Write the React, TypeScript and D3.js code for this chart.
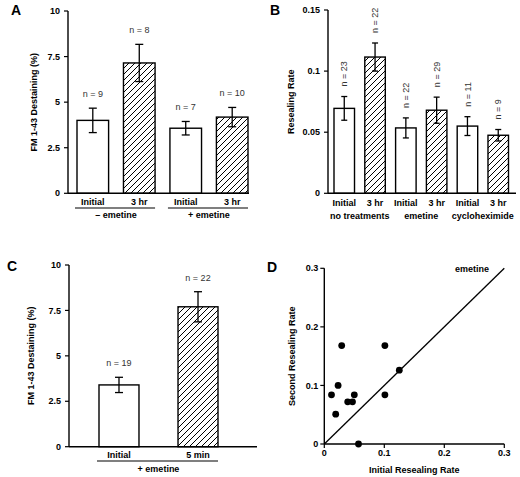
import React from "react";
import * as d3 from "d3";

// ---------- Panel A ----------
const aCategories = ["Initial", "3 hr", "Initial", "3 hr"];
const aHatched = [false, true, false, true];
const aValues = [4.0, 7.15, 3.57, 4.18];
const aErrors = [0.67, 1.02, 0.37, 0.53];
const aN = ["n = 9", "n = 8", "n = 7", "n = 10"];
const aGroups = ["\u2013 emetine", "+ emetine"];
const aTicks = [0, 2.5, 5, 7.5, 10];

// ---------- Panel B ----------
const bCategories = ["Initial", "3 hr", "Initial", "3 hr", "Initial", "3 hr"];
const bHatched = [false, true, false, true, false, true];
const bValues = [0.0695, 0.1115, 0.0535, 0.068, 0.055, 0.0475];
const bErrors = [0.0097, 0.0115, 0.0082, 0.0107, 0.0077, 0.0047];
const bN = ["n = 23", "n = 22", "n = 22", "n = 29", "n = 11", "n = 9"];
const bGroups = ["no treatments", "emetine", "cycloheximide"];
const bTicks = [0, 0.05, 0.1, 0.15];

// ---------- Panel C ----------
const cCategories = ["Initial", "5 min"];
const cHatched = [false, true];
const cValues = [3.4, 7.7];
const cErrors = [0.42, 0.83];
const cN = ["n = 19", "n = 22"];
const cGroups = ["+ emetine"];
const cTicks = [0, 2.5, 5, 7.5, 10];

// ---------- Panel D ----------
const dInitial = [0.029, 0.101, 0.125, 0.023, 0.012, 0.05, 0.101, 0.039, 0.047, 0.019, 0.057];
const dSecond = [0.168, 0.168, 0.126, 0.1, 0.084, 0.084, 0.084, 0.072, 0.072, 0.051, 0.0];
const dTicks = [0, 0.1, 0.2, 0.3];
const dNote = "emetine";

const FONT = "'Liberation Sans', Arial, Helvetica, sans-serif";

type BarPanelProps = {
  id: string;
  letter: string;
  letterX: number;
  letterY: number;
  categories: string[];
  hatched: boolean[];
  values: number[];
  errors: number[];
  nLabels: string[];
  groups: string[];
  groupLines: boolean;
  ticks: number[];
  tickFormat: (v: number) => string;
  yDomain: [number, number];
  yRange: [number, number];
  axisX: number;
  axisEnd: number;
  barRange: [number, number];
  padInner: number;
  capHalf: number;
  rotateN: boolean;
  yTitle: string;
  yTitleX: number;
  catY: number;
  groupLineY: number;
  groupY: number;
};

function BarPanel(p: BarPanelProps) {
  const y = d3.scaleLinear().domain(p.yDomain).range(p.yRange);
  const idx = p.categories.map((_, i) => String(i));
  const x = d3.scaleBand<string>().domain(idx).range(p.barRange).paddingInner(p.padInner).paddingOuter(0);
  const bw = x.bandwidth();
  const base = y(0);
  const per = p.categories.length / p.groups.length;
  const midY = (p.yRange[0] + p.yRange[1]) / 2;
  return (
    <g fontFamily={FONT}>
      <text x={p.letterX} y={p.letterY} fontSize={14} fontWeight="bold">{p.letter}</text>
      {/* bars */}
      {p.values.map((v, i) => (
        <rect key={"b" + i} x={x(String(i))} y={y(v)} width={bw} height={base - y(v)}
          fill={p.hatched[i] ? `url(#hatch)` : "#fff"} stroke="#000" strokeWidth={1.4} />
      ))}
      {/* error bars */}
      {p.values.map((v, i) => {
        const cx = (x(String(i)) as number) + bw / 2;
        const t = y(v + p.errors[i]);
        const b = y(v - p.errors[i]);
        return (
          <g key={"e" + i} stroke="#000" strokeWidth={1.3}>
            <line x1={cx} x2={cx} y1={t} y2={b} />
            <line x1={cx - p.capHalf} x2={cx + p.capHalf} y1={t} y2={t} />
            <line x1={cx - p.capHalf} x2={cx + p.capHalf} y1={b} y2={b} />
          </g>
        );
      })}
      {/* n labels */}
      {p.values.map((v, i) => {
        const cx = (x(String(i)) as number) + bw / 2;
        const t = y(v + p.errors[i]);
        return p.rotateN ? (
          <text key={"n" + i} transform={`translate(${cx},${t - 10}) rotate(-90)`} dy="0.35em"
            fontSize={9} fill="#333" textAnchor="start">{p.nLabels[i]}</text>
        ) : (
          <text key={"n" + i} x={cx} y={t - 11} fontSize={9} fill="#333" textAnchor="middle">{p.nLabels[i]}</text>
        );
      })}
      {/* axes */}
      <line x1={p.axisX} x2={p.axisX} y1={p.yRange[1]} y2={base} stroke="#000" strokeWidth={1.4} />
      <line x1={p.axisX} x2={p.axisEnd} y1={base} y2={base} stroke="#000" strokeWidth={1.4} />
      {p.ticks.map((t) => (
        <g key={"t" + t}>
          <line x1={p.axisX - 4} x2={p.axisX} y1={y(t)} y2={y(t)} stroke="#000" strokeWidth={1.2} />
          <text x={p.axisX - 8} y={y(t)} dy="0.35em" textAnchor="end" fontSize={9} fontWeight="bold">{p.tickFormat(t)}</text>
        </g>
      ))}
      <text transform={`translate(${p.yTitleX},${midY}) rotate(-90)`} textAnchor="middle" fontSize={9} fontWeight="bold">{p.yTitle}</text>
      {/* category labels */}
      {p.categories.map((c, i) => (
        <text key={"c" + i} x={(x(String(i)) as number) + bw / 2} y={p.catY} textAnchor="middle" fontSize={9} fontWeight="bold">{c}</text>
      ))}
      {/* group labels */}
      {p.groups.map((g, gi) => {
        const x0 = x(String(gi * per)) as number;
        const x1 = (x(String(gi * per + per - 1)) as number) + bw;
        return (
          <g key={"g" + gi}>
            {p.groupLines && <line x1={x0 - 2} x2={x1} y1={p.groupLineY} y2={p.groupLineY} stroke="#000" strokeWidth={1.2} />}
            <text x={(x0 + x1) / 2} y={p.groupY} textAnchor="middle" fontSize={9} fontWeight="bold">{g}</text>
          </g>
        );
      })}
    </g>
  );
}

function ScatterPanel() {
  const x = d3.scaleLinear().domain([0, 0.3]).range([324.3, 504.3]);
  const y = d3.scaleLinear().domain([0, 0.3]).range([444, 268.3]);
  const fmt = (v: number) => (v === 0 ? "0" : d3.format(".1f")(v));
  return (
    <g fontFamily={FONT}>
      <text x={267} y={271.5} fontSize={14} fontWeight="bold">D</text>
      <line x1={x(0)} x2={x(0)} y1={y(0.3)} y2={y(0)} stroke="#000" strokeWidth={1.4} />
      <line x1={x(0)} x2={x(0.3)} y1={y(0)} y2={y(0)} stroke="#000" strokeWidth={1.4} />
      {dTicks.map((t) => (
        <g key={"yt" + t}>
          <line x1={x(0) - 4} x2={x(0)} y1={y(t)} y2={y(t)} stroke="#000" strokeWidth={1.2} />
          <text x={x(0) - 6} y={y(t)} dy="0.35em" textAnchor="end" fontSize={9} fontWeight="bold">{fmt(t)}</text>
          <line x1={x(t)} x2={x(t)} y1={y(0)} y2={y(0) + 4} stroke="#000" strokeWidth={1.2} />
          <text x={x(t)} y={456} textAnchor="middle" fontSize={9} fontWeight="bold">{fmt(t)}</text>
        </g>
      ))}
      <line x1={x(0)} y1={y(0)} x2={x(0.3)} y2={y(0.3)} stroke="#000" strokeWidth={1.3} />
      {dInitial.map((v, i) => (
        <circle key={"p" + i} cx={x(v)} cy={y(dSecond[i])} r={3.4} fill="#000" />
      ))}
      <text x={472} y={271.5} textAnchor="middle" fontSize={9} fontWeight="bold">{dNote}</text>
      <text x={x(0.15)} y={473} textAnchor="middle" fontSize={9} fontWeight="bold">Initial Resealing Rate</text>
      <text transform={`translate(294.5,${(y(0) + y(0.3)) / 2}) rotate(-90)`} textAnchor="middle" fontSize={9} fontWeight="bold">Second Resealing Rate</text>
    </g>
  );
}

export default function App() {
  const fmtA = (v: number) => (Number.isInteger(v) ? String(v) : String(v));
  const fmtB = (v: number) => (v === 0 ? "0" : String(v));
  return (
    <svg width={520} height={477} style={{ position: "absolute", left: 0, top: 0, background: "#fff" }}>
      <defs>
        <pattern id="hatch" patternUnits="userSpaceOnUse" width={6} height={6}>
          <rect width={6} height={6} fill="#fff" />
          <path d="M0,6 L6,0 M-1,1 L1,-1 M5,7 L7,5" stroke="#000" strokeWidth={1} />
        </pattern>
      </defs>
      <rect width={520} height={477} fill="#fff" />
      <BarPanel id="A" letter="A" letterX={11} letterY={14.5}
        categories={aCategories} hatched={aHatched} values={aValues} errors={aErrors} nLabels={aN}
        groups={aGroups} groupLines={true} ticks={aTicks} tickFormat={fmtA}
        yDomain={[0, 10]} yRange={[193.3, 11]} axisX={68} axisEnd={249}
        barRange={[77, 248]} padInner={0.32} capHalf={4} rotateN={false}
        yTitle="FM 1-43 Destaining (%)" yTitleX={36.5} catY={205} groupLineY={208} groupY={218} />
      <BarPanel id="B" letter="B" letterX={270} letterY={14.5}
        categories={bCategories} hatched={bHatched} values={bValues} errors={bErrors} nLabels={bN}
        groups={bGroups} groupLines={false} ticks={bTicks} tickFormat={fmtB}
        yDomain={[0, 0.15]} yRange={[193.3, 10]} axisX={328} axisEnd={516}
        barRange={[334, 508.5]} padInner={0.334} capHalf={3} rotateN={true}
        yTitle="Resealing Rate" yTitleX={294} catY={206} groupLineY={208} groupY={219} />
      <BarPanel id="C" letter="C" letterX={7} letterY={271} 
        categories={cCategories} hatched={cHatched} values={cValues} errors={cErrors} nLabels={cN}
        groups={cGroups} groupLines={true} ticks={cTicks} tickFormat={fmtA}
        yDomain={[0, 10]} yRange={[446.7, 265]} axisX={69} axisEnd={257}
        barRange={[99, 218]} padInner={0.494} capHalf={4} rotateN={false}
        yTitle="FM 1-43 Destaining (%)" yTitleX={33.5} catY={458} groupLineY={461} groupY={472} />
      <ScatterPanel />
    </svg>
  );
}
